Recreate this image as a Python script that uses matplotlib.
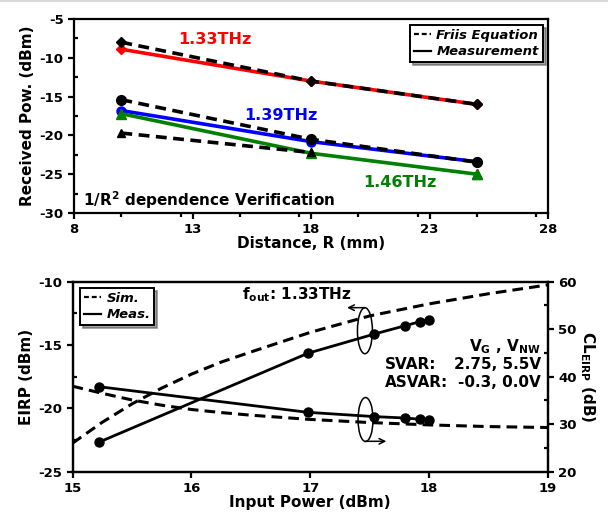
import matplotlib
matplotlib.use("Agg")
import matplotlib.pyplot as plt
from matplotlib.lines import Line2D
from matplotlib.patches import Ellipse
from matplotlib.ticker import MultipleLocator

plt.rcParams['font.family'] = ['DejaVu Sans']
plt.rcParams['font.weight'] = 'bold'
plt.rcParams['axes.unicode_minus'] = False

# ---------------- top panel data ----------------
distance = [10, 18, 25]
friis_133 = [-8.0, -13.0, -16.0]
meas_133 = [-8.9, -13.0, -16.0]
friis_139 = [-15.4, -20.5, -23.45]
meas_139 = [-16.8, -20.8, -23.4]
friis_146_dist = [10, 18]
friis_146 = [-19.7, -22.2]
meas_146 = [-17.2, -22.3, -25.0]
top_xticks = [8, 13, 18, 23, 28]
top_yticks = [-30, -25, -20, -15, -10, -5]

# ---------------- bottom panel data ----------------
pin_meas = [15.22, 16.98, 17.54, 17.80, 17.92, 18.0]
eirp_meas = [-22.68, -15.65, -14.13, -13.47, -13.16, -13.0]
cl_meas = [37.9, 32.5, 31.6, 31.3, 31.05, 30.9]
pin_sim = [15.0, 15.25, 15.5, 15.75, 16.0, 16.25, 16.5, 17.0, 17.5, 18.0, 18.5, 19.0]
eirp_sim = [-22.75, -21.1, -19.65, -18.4, -17.3, -16.35, -15.55, -14.0, -12.7, -11.75, -10.95, -10.25]
cl_sim = [38.0, 36.5, 35.1, 34.0, 33.1, 32.45, 31.9, 31.0, 30.35, 29.85, 29.5, 29.3]
bot_xticks = [15, 16, 17, 18, 19]
bot_yticks = [-25, -20, -15, -10]
cl_ticks = [20, 30, 40, 50, 60]

W, H = 608, 521
fig = plt.figure(figsize=(W / 100, H / 100), dpi=100)

def rect(l, r, t, b):
    return [l / W, 1 - b / H, (r - l) / W, (b - t) / H]

SPW = 1.6

def style_axis(ax):
    for s in ax.spines.values():
        s.set_linewidth(SPW)
    ax.tick_params(axis='both', which='major', labelsize=9.5, width=SPW, length=4)
    ax.tick_params(axis='y', which='minor', direction='in', width=SPW, length=3)
    ax.tick_params(axis='x', which='minor', direction='out', width=SPW, length=3)
    for lab in ax.get_xticklabels() + ax.get_yticklabels():
        lab.set_fontweight('bold')

# ================= TOP =================
ax1 = fig.add_axes(rect(74, 548, 19, 213))
lw_c = 2.6
ax1.plot(distance, meas_133, color='#ff0000', lw=lw_c, marker='D', ms=5, zorder=2)
ax1.plot(distance, meas_139, color='#0000ff', lw=lw_c, marker='o', ms=6.5, zorder=2)
ax1.plot(distance, meas_146, color='#008000', lw=lw_c, marker='^', ms=6.5, zorder=2)
dash_kw = dict(color='black', lw=2.6, ls=(0, (3.0, 1.8)), zorder=3)
ax1.plot(distance, friis_133, marker='D', ms=5, **dash_kw)
ax1.plot(distance, friis_139, marker='o', ms=7, **dash_kw)
ax1.plot(friis_146_dist, friis_146, marker='^', ms=6, **dash_kw)
ax1.plot(distance[-1:], meas_146[-1:], color='#008000', marker='^', ms=7, ls='none', zorder=4)

ax1.set_xlim(8, 28)
ax1.set_ylim(-30, -5)
ax1.set_xticks(top_xticks)
ax1.set_yticks(top_yticks)
ax1.xaxis.set_minor_locator(MultipleLocator(2.5))
ax1.yaxis.set_minor_locator(MultipleLocator(2.5))
style_axis(ax1)
ax1.set_xlabel('Distance, R (mm)', fontsize=11, fontweight='bold', labelpad=0)
ax1.set_ylabel('Received Pow. (dBm)', fontsize=11, fontweight='bold', labelpad=3)

ax1.text(13.95, -7.7, '1.33THz', color='#ff0000', fontsize=11.5, ha='center', va='center', fontweight='bold')
ax1.text(16.73, -17.4, '1.39THz', color='#0000ff', fontsize=11.5, ha='center', va='center', fontweight='bold')
ax1.text(21.75, -26.1, '1.46THz', color='#008000', fontsize=11.5, ha='center', va='center', fontweight='bold')
ax1.text(8.38, -28.3, '1/R$^{\\mathbf{2}}$ dependence Verification', fontsize=11, ha='left', va='center', fontweight='bold')

h1 = [Line2D([], [], color='black', lw=1.6, ls=(0, (2.2, 1.3))),
      Line2D([], [], color='black', lw=1.6)]
leg1 = ax1.legend(h1, ['Friis Equation', 'Measurement'], loc='upper right',
                  bbox_to_anchor=(0.989, 0.969), borderaxespad=0, fancybox=False,
                  shadow=True, framealpha=1, edgecolor='black', handlelength=1.3,
                  handletextpad=0.4, borderpad=0.3, labelspacing=0.25,
                  prop=dict(size=9.5, weight='bold', style='italic'))
leg1.get_frame().set_linewidth(1.4)

# ================= BOTTOM =================
ax2 = fig.add_axes(rect(72.5, 548, 281.7, 471.7))
ax3 = ax2.twinx()
ax2.plot(pin_sim, eirp_sim, color='black', lw=2.2, ls=(0, (3.5, 2.0)), zorder=3)
ax2.plot(pin_meas, eirp_meas, color='black', lw=2.0, marker='o', ms=6.5, zorder=3)
ax3.plot(pin_sim, cl_sim, color='black', lw=2.2, ls=(0, (3.5, 2.0)), zorder=3)
ax3.plot(pin_meas, cl_meas, color='black', lw=2.0, marker='o', ms=6.5, zorder=3)

ax2.set_xlim(15, 19)
ax2.set_ylim(-25, -10)
ax3.set_ylim(20, 60)
ax2.set_xticks(bot_xticks)
ax2.set_yticks(bot_yticks)
ax3.set_yticks(cl_ticks)
ax2.yaxis.set_minor_locator(MultipleLocator(2.5))
ax3.yaxis.set_minor_locator(MultipleLocator(5))
style_axis(ax2)
style_axis(ax3)
ax2.set_xlabel('Input Power (dBm)', fontsize=11, fontweight='bold', labelpad=0)
ax2.set_ylabel('EIRP (dBm)', fontsize=11, fontweight='bold', labelpad=3)
ax3.set_ylabel('CL$_{\\mathbf{EIRP}}$ (dB)', fontsize=11, fontweight='bold', rotation=270, labelpad=14)

# annotations
ax2.text(16.43, -11.05, 'f$_{\\mathbf{out}}$: 1.33THz', fontsize=11, ha='left', va='center', fontweight='bold')
ax2.add_patch(Ellipse((17.46, -13.87), 0.126, 3.63, fill=False, lw=1.1, color='black', zorder=4))
ax2.add_patch(Ellipse((17.465, -20.88), 0.126, 3.47, fill=False, lw=1.1, color='black', zorder=4))
ax2.annotate('', xy=(17.31, -12.05), xytext=(17.46, -12.05),
             arrowprops=dict(arrowstyle='->', lw=1.1, color='black', shrinkA=0, shrinkB=0))
ax2.annotate('', xy=(17.64, -22.6), xytext=(17.465, -22.6),
             arrowprops=dict(arrowstyle='->', lw=1.1, color='black', shrinkA=0, shrinkB=0))

ax2.text(18.94, -15.15, 'V$_{\\mathbf{G}}$ , V$_{\\mathbf{NW}}$', fontsize=11, ha='right', va='center', fontweight='bold')
ax2.text(17.63, -16.57, 'SVAR:', fontsize=11, ha='left', va='center', fontweight='bold')
ax2.text(18.94, -16.57, '2.75, 5.5V', fontsize=11, ha='right', va='center', fontweight='bold')
ax2.text(17.63, -17.99, 'ASVAR:', fontsize=11, ha='left', va='center', fontweight='bold')
ax2.text(18.94, -17.99, '-0.3, 0.0V', fontsize=11, ha='right', va='center', fontweight='bold')

h2 = [Line2D([], [], color='black', lw=1.6, ls=(0, (2.2, 1.3))),
      Line2D([], [], color='black', lw=1.6)]
leg2 = ax2.legend(h2, ['Sim.', 'Meas.'], loc='upper left',
                  bbox_to_anchor=(0.016, 0.967), borderaxespad=0, fancybox=False,
                  shadow=True, framealpha=1, edgecolor='black', handlelength=1.3,
                  handletextpad=0.4, borderpad=0.3, labelspacing=0.25,
                  prop=dict(size=9.5, weight='bold', style='italic'))
leg2.get_frame().set_linewidth(1.4)
leg2.set_zorder(10)

fig.add_artist(Line2D([0, 1], [1 - 1 / H, 1 - 1 / H], color='#d8d8d8', lw=1.5, transform=fig.transFigure))

fig.savefig('out.png', dpi=100)
